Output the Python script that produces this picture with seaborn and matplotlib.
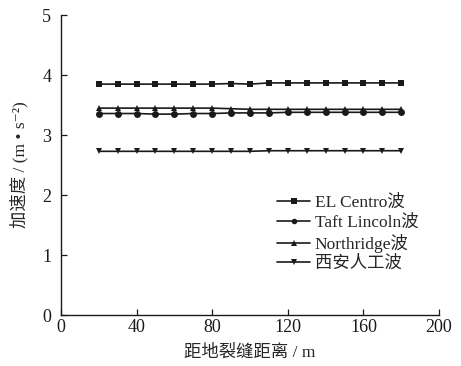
import matplotlib
matplotlib.use("Agg")
import matplotlib.pyplot as plt
import seaborn as sns
import pandas as pd

# Distance from ground fissure (m)
distance = [20, 30, 40, 50, 60, 70, 80, 90, 100, 110, 120, 130, 140, 150, 160, 170, 180]

# Peak acceleration (m/s^2) for each input wave
el_centro = [3.85, 3.85, 3.85, 3.85, 3.85, 3.85, 3.85, 3.86, 3.85, 3.87, 3.87, 3.87, 3.87, 3.87, 3.87, 3.87, 3.87]
taft_lincoln = [3.36, 3.36, 3.36, 3.35, 3.35, 3.36, 3.36, 3.37, 3.37, 3.37, 3.38, 3.38, 3.38, 3.38, 3.38, 3.38, 3.38]
northridge = [3.45, 3.45, 3.45, 3.45, 3.45, 3.45, 3.45, 3.44, 3.43, 3.43, 3.43, 3.43, 3.43, 3.43, 3.43, 3.43, 3.43]
xian = [2.73, 2.73, 2.73, 2.73, 2.73, 2.73, 2.73, 2.73, 2.73, 2.74, 2.74, 2.74, 2.74, 2.74, 2.74, 2.74, 2.74]

series_names = ["EL Centro波", "Taft Lincoln波", "Northridge波", "西安人工波"]
series_values = [el_centro, taft_lincoln, northridge, xian]
markers = ["s", "o", "^", "v"]

x_ticks = [0, 40, 80, 120, 160, 200]
y_ticks = [0, 1, 2, 3, 4, 5]

sns.set_theme(style="ticks")
plt.rcParams["font.family"] = ["Liberation Serif", "Noto Sans CJK SC", "DejaVu Sans"]
plt.rcParams["axes.unicode_minus"] = False

rows = []
for name, vals in zip(series_names, series_values):
    for d, v in zip(distance, vals):
        rows.append({"距离": d, "加速度": v, "波": name})
df = pd.DataFrame(rows)

fig = plt.figure(figsize=(4.61, 3.66), dpi=100)
ax = fig.add_axes([0.1323, 0.139, 0.8200, 0.8197])

for name, mk in zip(series_names, markers):
    sub = df[df["波"] == name]
    sns.lineplot(data=sub, x="距离", y="加速度", ax=ax, color="#1a1a1a",
                 marker=mk, markersize=5, markeredgewidth=0, linewidth=1.2,
                 label=name)

ax.set_xlim(0, 200)
ax.set_ylim(0, 5)
ax.set_xticks(x_ticks)
ax.set_yticks(y_ticks)
ax.tick_params(direction="in", length=4, width=0.9, labelsize=13,
               colors="#1a1a1a")
ax.tick_params(axis="x", pad=3)
ax.tick_params(axis="y", pad=7)
for side in ["top", "right"]:
    ax.spines[side].set_visible(False)
for side in ["left", "bottom"]:
    ax.spines[side].set_linewidth(1.0)
    ax.spines[side].set_color("#1a1a1a")

ax.set_xlabel("距地裂缝距离 / m", fontsize=12.5, labelpad=6)
ax.set_ylabel("加速度 / (m • s⁻²)", fontsize=12.5, labelpad=10)

leg = ax.legend(loc="upper left", bbox_to_anchor=(0.572, 0.40), frameon=False,
                fontsize=12.5, handlelength=1.9, handletextpad=0.25,
                labelspacing=0.18, borderaxespad=0, borderpad=0)
for h in leg.legend_handles:
    h.set_markersize(4)

fig.savefig("out.png", dpi=100)
